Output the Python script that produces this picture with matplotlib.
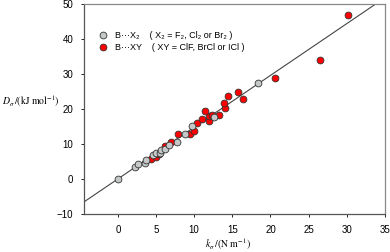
import matplotlib
matplotlib.use("Agg")
import matplotlib.pyplot as plt
import numpy as np

# Data
x2_k = [0.0, 2.3, 2.6, 3.6, 3.7, 4.65, 5.0, 5.5, 5.6, 6.2, 6.65, 7.8, 8.8, 9.7, 12.6, 18.35]
x2_d = [0.0, 3.5, 4.2, 4.7, 5.4, 6.9, 7.4, 7.5, 8.3, 8.6, 9.7, 10.7, 12.9, 15.2, 17.7, 27.5]

xy_k = [4.4, 5.0, 5.4, 6.2, 7.0, 7.95, 9.4, 10.0, 10.4, 11.0, 12.0, 12.0, 12.3, 13.3,
        11.4, 14.1, 13.9, 14.4, 15.8, 16.4, 20.6, 26.5, 30.1]
xy_d = [5.6, 6.4, 7.2, 9.3, 10.7, 12.9, 12.9, 13.7, 16.0, 17.1, 16.7, 18.0, 18.3, 18.2,
        19.5, 20.3, 21.7, 23.8, 24.8, 22.8, 29.0, 34.1, 47.0]

fit_slope = 1.48
fit_intercept = 0.0

x_ticks = [0, 5, 10, 15, 20, 25, 30, 35]
y_ticks = [-10, 0, 10, 20, 30, 40, 50]

legend_labels = ["B\u00b7\u00b7\u00b7X\u2082    ( X\u2082 = F\u2082, Cl\u2082 or Br\u2082 )",
                 "B\u00b7\u00b7\u00b7XY    ( XY = ClF, BrCl or ICl )"]

plt.rcParams['font.family'] = ['Liberation Sans', 'DejaVu Sans']

fig = plt.figure(figsize=(3.9, 2.52), dpi=100)
ax = fig.add_axes([0.216, 0.151, 0.771, 0.833])

xlim = (-4.4, 35)
ylim = (-10, 50)
xl = np.array(xlim)
ax.plot(xl, fit_slope * xl + fit_intercept, color='#444444', lw=0.8, zorder=1)

ms = 24
ax.scatter(x2_k, x2_d, s=ms, facecolor='#c4c8c8', edgecolor='#333333', linewidth=0.6,
           zorder=3, label=legend_labels[0])
ax.scatter(xy_k, xy_d, s=ms, facecolor='#ff0000', edgecolor='#333333', linewidth=0.6,
           zorder=2, label=legend_labels[1])

ax.set_xlim(*xlim)
ax.set_ylim(*ylim)
ax.set_xticks(x_ticks)
ax.set_yticks(y_ticks)
ax.tick_params(labelsize=7, length=2, width=0.6, direction='out', pad=6)

for side in ['left', 'bottom']:
    ax.spines[side].set_color('#555555')
    ax.spines[side].set_linewidth(0.9)
for side in ['top', 'right']:
    ax.spines[side].set_color('#888888')
    ax.spines[side].set_linewidth(0.9)

lab_kw = dict(fontsize=7, math_fontfamily='stix', family='Liberation Serif')
fig.text(0.005, 0.6, r'$D_\sigma\,/(\mathrm{kJ\ mol^{-1}})$', ha='left', va='center', **lab_kw)
fig.text(0.525, 0.03, r'$k_\sigma\,/(\mathrm{N\ m^{-1}})$', ha='left', va='center', **lab_kw)

leg = ax.legend(loc='upper left', bbox_to_anchor=(0.03, 0.895), frameon=False,
                fontsize=6.5, handletextpad=0.7, labelspacing=0.35, borderpad=0,
                handlelength=1.2)

fig.savefig("out.png", dpi=100)
